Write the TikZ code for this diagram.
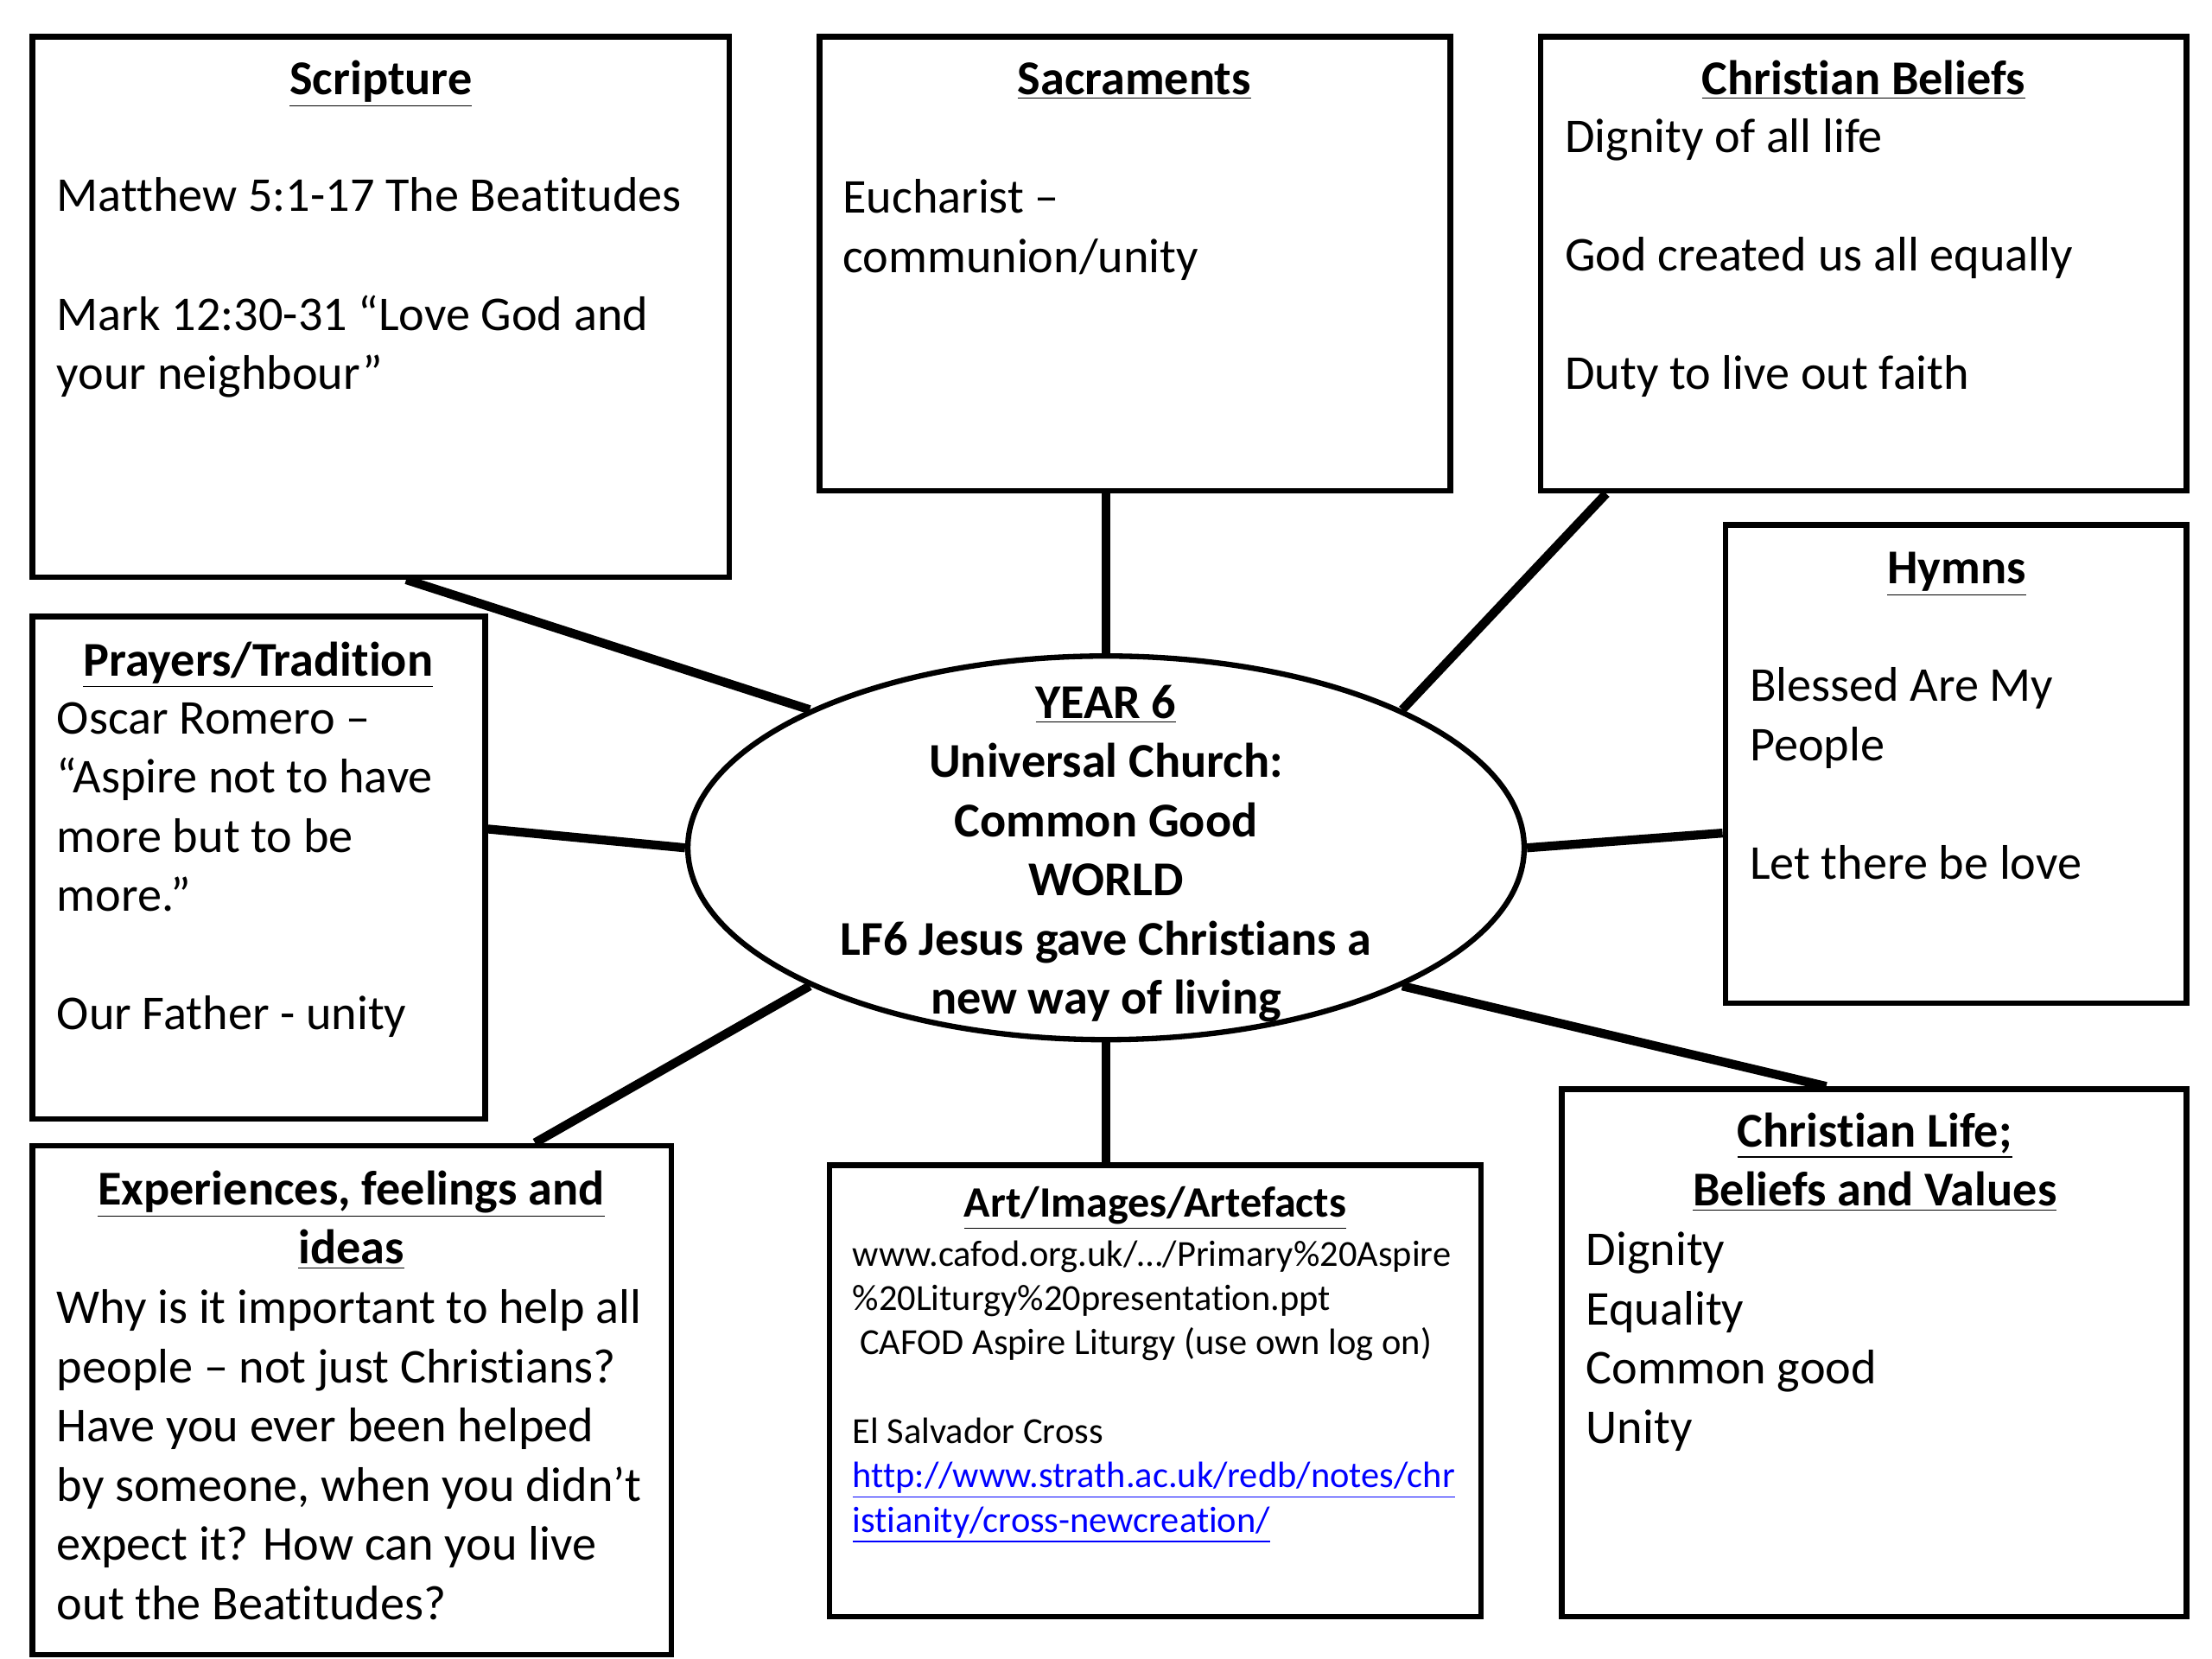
\documentclass[tikz,border=0pt]{standalone}
\usepackage{fontspec}
\setmainfont{Carlito}[Ligatures=NoCommon]
\usetikzlibrary{shapes.geometric,fit,calc}

\tikzset{
  topic/.style={draw,line width=2.2pt,inner sep=0pt},
  head/.style={font=\fontsize{19.6}{23.9}\selectfont\bfseries,align=center,anchor=base,inner sep=0pt},
  body/.style={font=\fontsize{19.6}{23.9}\selectfont,align=left,anchor=base west,inner sep=0pt},
  small/.style={font=\fontsize{14.8}{17.9}\selectfont,align=left,anchor=base west,inner sep=0pt},
  spoke/.style={line width=3.6pt},
}

\begin{document}
\begin{tikzpicture}[x=0.02cm,y=-0.02cm]
    \useasboundingbox (0,0) rectangle (1568,1176);

    % the boxes
    \node[topic,fit={(23,26) (517,409)}] (scripture) {};
    \node[topic,fit={(581,26) (1028,348)}] (sacraments) {};
    \node[topic,fit={(1092,26) (1550,348)}] (beliefs) {};
    \node[topic,fit={(1223,372) (1550,711)}] (hymns) {};
    \node[topic,fit={(23,437) (344,793)}] (prayers) {};
    \node[topic,fit={(23,812) (476,1173)}] (feelings) {};
    \node[topic,fit={(588,826) (1050,1146)}] (art) {};
    \node[topic,fit={(1107,772) (1550,1146)}] (life) {};

    \node[draw,ellipse,line width=2.2pt,inner sep=0pt,minimum width=11.86cm,minimum height=5.44cm] (hub) at (784,601) {};

    % spokes
    \draw[spoke] ($(scripture.south west)!0.536!(scripture.south east)$) -- (hub.155);
    \draw[spoke] (hub.north |- sacraments.south) -- (hub.north);
    \draw[spoke] ($(beliefs.south west)!0.105!(beliefs.south east)$) -- (hub.25);
    \draw[spoke] ($(prayers.north east)!0.424!(prayers.south east)$) -- (hub.west);
    \draw[spoke] ($(hymns.north west)!0.643!(hymns.south west)$) -- (hub.east);
    \draw[spoke] ($(feelings.north west)!0.784!(feelings.north east)$) -- (hub.205);
    \draw[spoke] (hub.south |- art.north) -- (hub.south);
    \draw[spoke] ($(life.north west)!0.424!(life.north east)$) -- (hub.335);

    % texts (multi-line nodes sit on their last baseline)
    \node[head] (hubtext) at (784,719) {\underline{YEAR 6}\\Universal Church:\\Common Good\\WORLD\\LF6 Jesus gave Christians a\\new way of living};

    \node[head] (scripturet) at (270,67) {\underline{Scripture}};
    \node[body] (scriptureb) at (40,276) {Matthew 5:1-17 The Beatitudes\\ \\Mark 12:30-31 “Love God and\\your neighbour”};

    \node[head] (sacramentst) at (804,67) {\underline{Sacraments}};
    \node[body] (sacramentsb) at (597,193) {Eucharist –\\communion/unity};

    \node[head] (beliefst) at (1321,67) {\underline{Christian Beliefs}};
    \node[body] (beliefsb) at (1109,276) {Dignity of all life\\ \\God created us all equally\\ \\Duty to live out faith};

    \node[head] (hymnst) at (1387,414) {\underline{Hymns}};
    \node[body] (hymnsb) at (1240,623) {Blessed Are My\\People\\ \\Let there be love};

    \node[head] (prayerst) at (183,479) {\underline{Prayers/Tradition}};
    \node[body] (prayersb) at (40,730) {Oscar Romero –\\“Aspire not to have\\more but to be\\more.”\\ \\Our Father - unity};

    \node[head] (feelingst) at (249,896) {\underline{Experiences, feelings and}\\\underline{ideas}};
    \node[body] (feelingsb) at (40,1148) {Why is it important to help all\\people – not just Christians?\\Have you ever been helped\\by someone, when you didn’t\\expect it? How can you live\\out the Beatitudes?};

    \node[head,font=\fontsize{17.5}{21}\selectfont\bfseries] (artt) at (819,863) {\underline{Art/Images/Artefacts}};
    \node[small] (artb) at (604,1086) {www.cafod.org.uk/…/Primary\%20Aspire\\\%20Liturgy\%20presentation.ppt\\\hspace*{3pt}CAFOD Aspire Liturgy (use own log on)\\ \\El Salvador Cross\\\textcolor{blue}{\underline{http://www.strath.ac.uk/redb/notes/chr}}\\\textcolor{blue}{\underline{istianity/cross-newcreation/}}};

    \node[head] (lifet) at (1329,855) {\underline{Christian Life;}\\\underline{Beliefs and Values}};
    \node[body] (lifeb) at (1124,1023) {Dignity\\Equality\\Common good\\Unity};
\end{tikzpicture}
\end{document}
